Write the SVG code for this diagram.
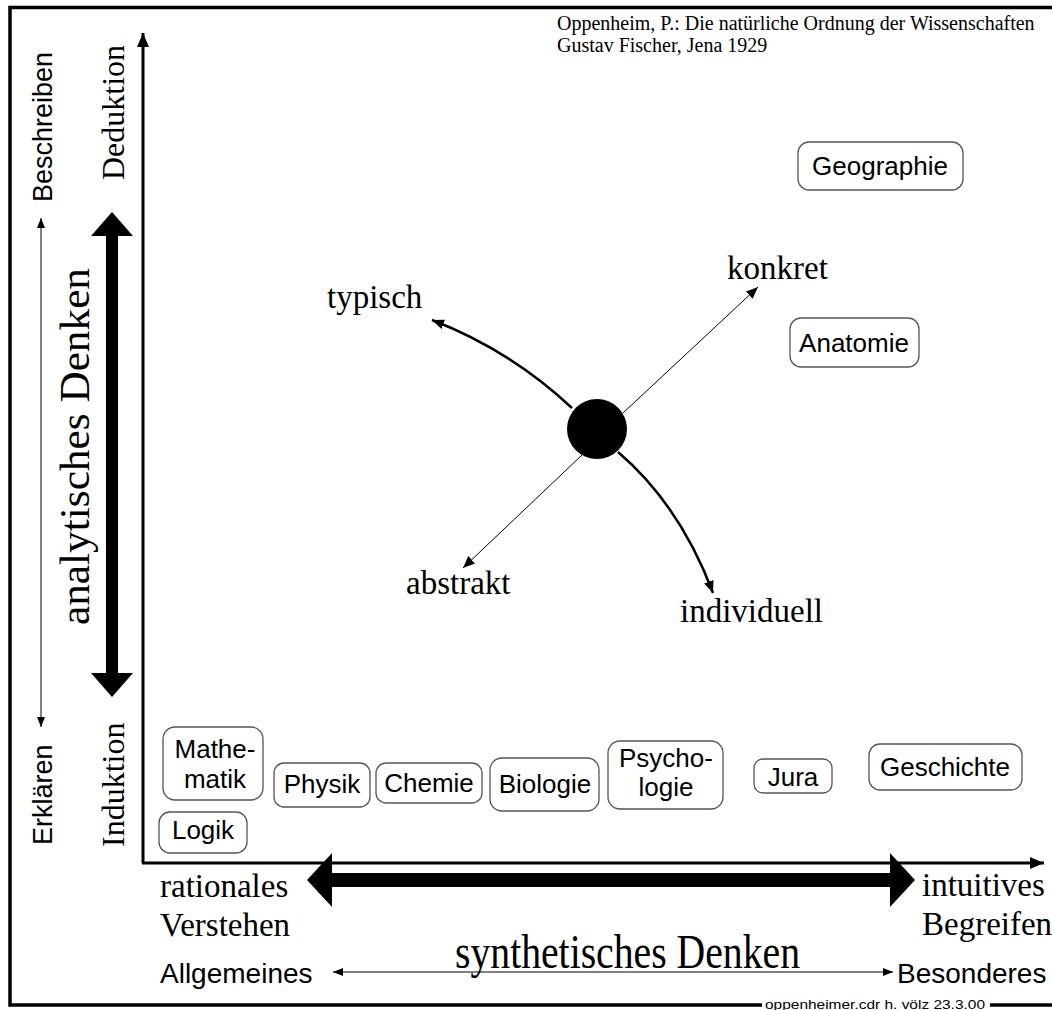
<svg xmlns="http://www.w3.org/2000/svg" width="1052" height="1010" viewBox="0 0 1052 1010">
<style>
.sans{font-family:"Liberation Sans",Arial,sans-serif;fill:#000}
.serif{font-family:"Liberation Serif","Times New Roman",serif;fill:#000}
.node rect{fill:#fff;stroke:#555;stroke-width:1.3}
.node text{font-family:"Liberation Sans",Arial,sans-serif;font-size:26px;text-anchor:middle;fill:#000}
.frame{stroke:#000;stroke-width:3.5;fill:none}
.thin{stroke:#000;stroke-width:1;fill:none}
.thick{stroke:#000;stroke-width:2.5;fill:none}
</style>
<defs>
<marker id="ah" viewBox="0 0 12 10" refX="12" refY="5" markerWidth="12" markerHeight="10" markerUnits="userSpaceOnUse" orient="auto">
<path d="M0,0 L12,5 L0,10 Z" fill="#000"/>
</marker>
<marker id="ahs" viewBox="0 0 10 8" refX="10" refY="4" markerWidth="10" markerHeight="8" markerUnits="userSpaceOnUse" orient="auto">
<path d="M0,0 L10,4 L0,8 Z" fill="#000"/>
</marker>
<marker id="ahb" viewBox="0 0 14 12" refX="14" refY="6" markerWidth="14" markerHeight="12" markerUnits="userSpaceOnUse" orient="auto">
<path d="M0,0 L14,6 L0,12 Z" fill="#000"/>
</marker>
</defs>
<rect width="1052" height="1010" fill="#fff"/>

<!-- frame -->
<g id="frame">
<path class="frame" d="M1052,7.5 H10 V1005 H762"/>
<path class="frame" d="M990,1005 H1052"/>
<text class="sans" x="765" y="1009" font-size="12" textLength="220" lengthAdjust="spacingAndGlyphs">oppenheimer.cdr  h. völz 23.3.00</text>
</g>

<!-- citation -->
<g id="citation">
<text class="serif" x="557" y="30" font-size="20">Oppenheim, P.: Die natürliche Ordnung der Wissenschaften</text>
<text class="serif" x="557" y="52" font-size="20">Gustav Fischer, Jena 1929</text>
</g>

<!-- connectors -->
<g id="connectors">
<!-- axes -->
<path d="M143,863 V33" stroke="#000" stroke-width="3" fill="none" marker-end="url(#ahb)"/>
<path d="M142,863 H1044" stroke="#000" stroke-width="3" fill="none" marker-end="url(#ahb)"/>
<!-- left thin arrows -->
<path class="thin" d="M41,470 V218" marker-end="url(#ahs)"/>
<path class="thin" d="M41,470 V727" marker-end="url(#ahs)"/>
<!-- bottom thin arrow -->
<path class="thin" d="M612,972 H333" marker-end="url(#ahs)"/>
<path class="thin" d="M612,972 H893" marker-end="url(#ahs)"/>
<!-- big double arrows -->
<polygon points="112,212 133,236 118,236 118,673 133,673 112,697 91,673 106,673 106,236 91,236" fill="#000"/>
<polygon points="307,880 332,853 332,873 890,873 890,853 915,880 890,907 890,887 332,887 332,907" fill="#000"/>
<!-- center arrows -->
<path class="thick" d="M572,408 Q510,350 432,320" marker-end="url(#ah)"/>
<path class="thick" d="M618,452 Q680,505 713,593" marker-end="url(#ah)"/>
<path class="thin" d="M623,413 L758,287" marker-end="url(#ah)"/>
<path class="thin" d="M582,455 L463,568" marker-end="url(#ah)"/>
</g>

<!-- center point -->
<g id="center">
<circle cx="597" cy="429" r="30" fill="#000"/>
</g>

<!-- labels -->
<g id="labels">
<text class="sans" font-size="27" transform="translate(52,202) rotate(-90)">Beschreiben</text>
<text class="sans" font-size="27" transform="translate(52,845) rotate(-90)">Erklären</text>
<text class="serif" font-size="32" transform="translate(124,180) rotate(-90)">Deduktion</text>
<text class="serif" font-size="32" transform="translate(124,847) rotate(-90)">Induktion</text>
<text class="serif" font-size="43" textLength="357" lengthAdjust="spacingAndGlyphs" transform="translate(89,625) rotate(-90)">analytisches Denken</text>
<text class="serif" x="455" y="968" font-size="48" textLength="345" lengthAdjust="spacingAndGlyphs">synthetisches Denken</text>
<text class="serif" x="160" y="897" font-size="33">rationales</text>
<text class="serif" x="160" y="936" font-size="33">Verstehen</text>
<text class="serif" x="922" y="896" font-size="33">intuitives</text>
<text class="serif" x="922" y="935" font-size="33">Begreifen</text>
<text class="sans" x="160" y="983" font-size="28">Allgemeines</text>
<text class="sans" x="897" y="983" font-size="28">Besonderes</text>
<text class="serif" x="327" y="308" font-size="33">typisch</text>
<text class="serif" x="727" y="279" font-size="33">konkret</text>
<text class="serif" x="406" y="594" font-size="33">abstrakt</text>
<text class="serif" x="680" y="622" font-size="33">individuell</text>
</g>

<!-- nodes -->
<g id="geographie" class="node"><rect x="798" y="142" width="165" height="48" rx="11"/><text x="880" y="175">Geographie</text></g>
<g id="anatomie" class="node"><rect x="790" y="318" width="129" height="49" rx="11"/><text x="854" y="352">Anatomie</text></g>
<g id="mathematik" class="node"><rect x="163" y="727" width="100" height="73" rx="12"/><text x="215" y="758">Mathe-</text><text x="215" y="788">matik</text></g>
<g id="logik" class="node"><rect x="159" y="812" width="88" height="41" rx="11"/><text x="203" y="839">Logik</text></g>
<g id="physik" class="node"><rect x="274" y="763" width="96" height="44" rx="10"/><text x="322" y="793">Physik</text></g>
<g id="chemie" class="node"><rect x="376" y="763" width="106" height="40" rx="10"/><text x="429" y="792">Chemie</text></g>
<g id="biologie" class="node"><rect x="490" y="758" width="109" height="53" rx="12"/><text x="545" y="793">Biologie</text></g>
<g id="psychologie" class="node"><rect x="608" y="741" width="115" height="68" rx="12"/><text x="666" y="767">Psycho-</text><text x="666" y="796">logie</text></g>
<g id="jura" class="node"><rect x="754" y="759" width="78" height="34" rx="9"/><text x="793" y="786">Jura</text></g>
<g id="geschichte" class="node"><rect x="869" y="744" width="153" height="46" rx="11"/><text x="945" y="776">Geschichte</text></g>
</svg>
